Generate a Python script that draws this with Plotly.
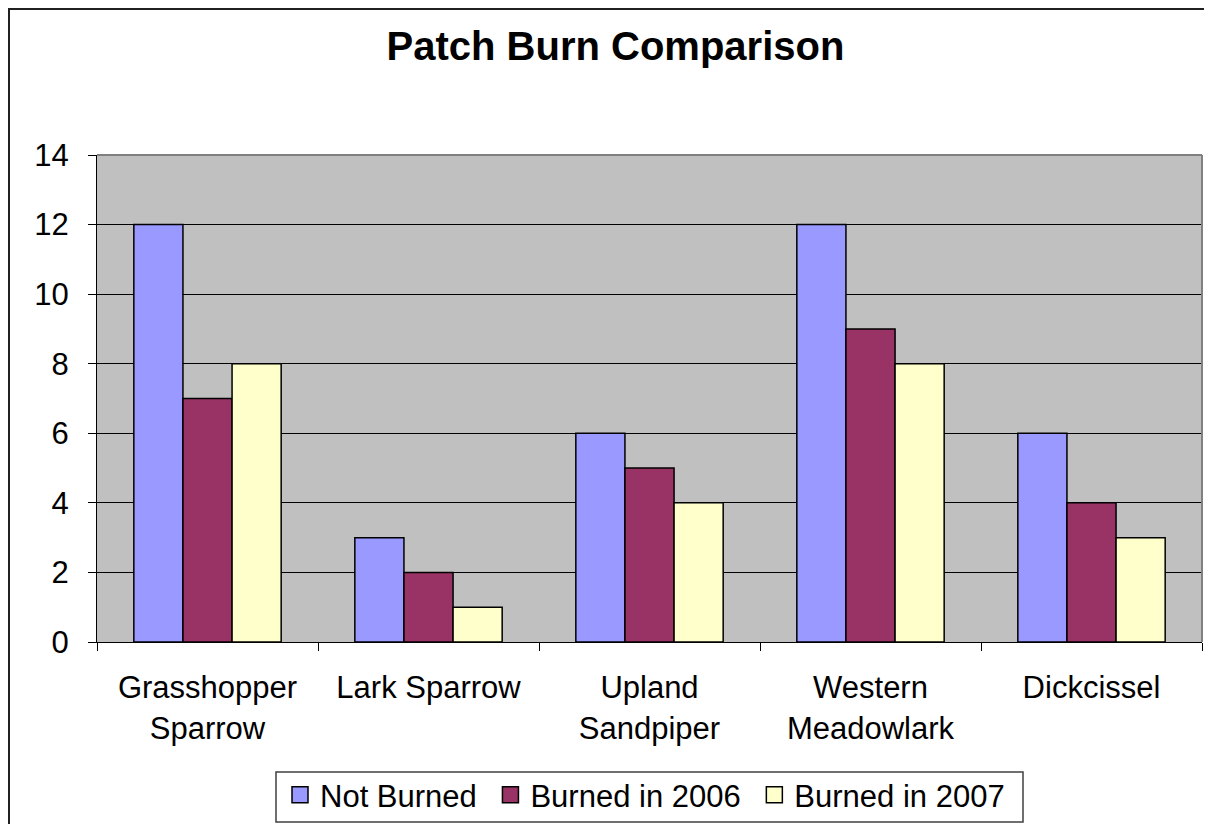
import plotly.graph_objects as go

# bird species counts by burn treatment
species = ["Grasshopper<br>Sparrow", "Lark Sparrow", "Upland<br>Sandpiper",
           "Western<br>Meadowlark", "Dickcissel"]
not_burned = [12, 3, 6, 12, 6]
burned_2006 = [7, 2, 5, 9, 4]
burned_2007 = [8, 1, 4, 8, 3]

series = [
    ("Not Burned", not_burned, "#9999FF"),
    ("Burned in 2006", burned_2006, "#993366"),
    ("Burned in 2007", burned_2007, "#FFFFCC"),
]

fig = go.Figure()
for name, vals, color in series:
    fig.add_trace(go.Bar(
        x=species, y=vals, name=name, showlegend=False,
        marker=dict(color=color, line=dict(color="black", width=1.5)),
    ))

# legend entries drawn with bigger square swatches
for name, vals, color in series:
    fig.add_trace(go.Scatter(
        x=[None], y=[None], mode="markers", name=name + "\u00a0",
        marker=dict(symbol="square", size=18, color=color,
                    line=dict(color="black", width=1.5)),
    ))

font_main = "Liberation Sans, Arial, sans-serif"

fig.update_layout(
    width=1204, height=816,
    margin=dict(l=89, r=10, t=147, b=182, autoexpand=False),
    paper_bgcolor="white",
    plot_bgcolor="#C0C0C0",
    barmode="group",
    bargap=1/3,
    bargroupgap=0,
    font=dict(family=font_main, size=30, color="black"),
    title=dict(text="<b>Patch Burn Comparison</b>", x=607.5/1204, xanchor="center",
               y=1 - 38/816, yanchor="middle",
               font=dict(family=font_main, size=40, color="black")),
    showlegend=True,
    legend=dict(orientation="h", x=0.5, xanchor="center", y=-0.2587, yanchor="top",
                borderwidth=0, bgcolor="rgba(0,0,0,0)",
                font=dict(family=font_main, size=31, color="black"),
                traceorder="normal"),
)

fig.update_xaxes(
    showgrid=False, showline=True, linecolor="black", linewidth=1,
    ticks="outside", tickson="boundaries", ticklen=8, tickcolor="black",
    ticklabelstandoff=18, tickfont=dict(size=31),
)
fig.update_yaxes(
    range=[0, 14], dtick=2, showgrid=True, gridcolor="black", gridwidth=1,
    showline=True, linecolor="black", linewidth=1,
    ticks="outside", ticklen=8, tickcolor="black", zeroline=False,
    ticklabelstandoff=13, tickfont=dict(size=31),
)

# plot area border on top and right (grey), plus outer chart border
fig.add_shape(type="line", xref="paper", yref="paper", x0=0, x1=1, y0=1, y1=1,
              line=dict(color="#808080", width=2))
fig.add_shape(type="line", xref="paper", yref="paper", x0=1, x1=1, y0=0, y1=1,
              line=dict(color="#808080", width=2))
fig.add_shape(type="rect", xref="paper", yref="paper",
              x0=(1 - 89) / 1105, x1=1.1, y0=-0.5, y1=(634 - 1) / 487,
              line=dict(color="#202020", width=2), layer="below")
# legend frame
fig.add_shape(type="rect", xref="paper", yref="paper",
              x0=(268 - 89) / 1105, x1=(1015 - 89) / 1105,
              y0=(634 - 814) / 487, y1=(634 - 764) / 487,
              line=dict(color="#404040", width=1.5), layer="below")

fig.write_html("out.html")
